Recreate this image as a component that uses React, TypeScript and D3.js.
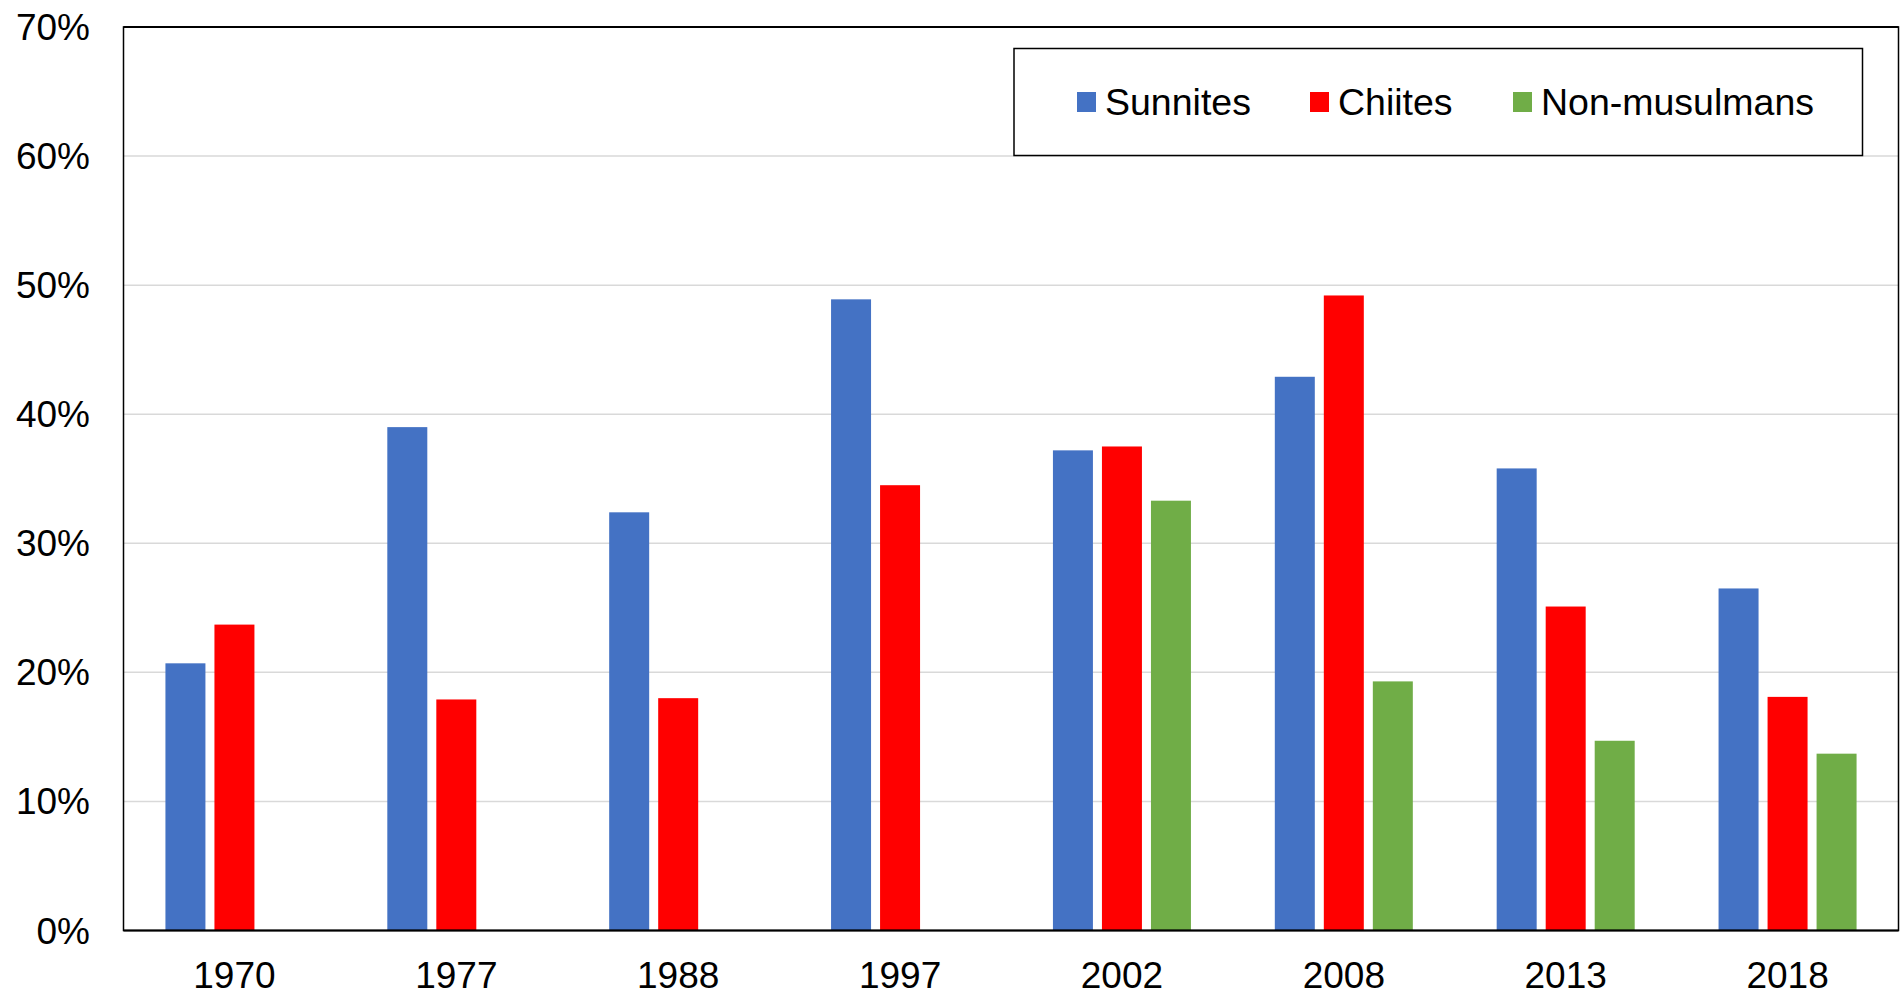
import React from "react";
import * as d3 from "d3";

const years = ["1970", "1977", "1988", "1997", "2002", "2008", "2013", "2018"];
const seriesNames = ["Sunnites", "Chiites", "Non-musulmans"];
const sunnites = [20.7, 39.0, 32.4, 48.9, 37.2, 42.9, 35.8, 26.5];
const chiites = [23.7, 17.9, 18.0, 34.5, 37.5, 49.2, 25.1, 18.1];
const nonMusulmans = [null, null, null, null, 33.3, 19.3, 14.7, 13.7];
const yTicks = [0, 10, 20, 30, 40, 50, 60, 70];
const colors = ["#4472C4", "#FF0000", "#70AD47"];

const W = 1901;
const H = 994;
const M = { left: 123.5, right: 1898.5, top: 27, bottom: 930.5 };
const FONT = "'Liberation Sans', Arial, sans-serif";

export default function App() {
  const x = d3.scaleBand<string>().domain(years).range([M.left, M.right]).paddingInner(0.378).paddingOuter(0.189);
  const xi = d3.scaleBand<string>().domain(seriesNames).range([0, x.bandwidth()]).paddingInner(0.184).paddingOuter(0);
  const y = d3.scaleLinear().domain([0, 70]).range([M.bottom, M.top]);
  const data = [sunnites, chiites, nonMusulmans];

  const legendX = [1077, 1310, 1513];

  return (
    <svg width={W} height={H} style={{ position: "absolute", left: 0, top: 0, display: "block", background: "#fff" }} fontFamily={FONT}>
      <rect x={0} y={0} width={W} height={H} fill="#fff" />
      {yTicks.slice(1, -1).map((t) => (
        <line key={t} x1={M.left} x2={M.right} y1={y(t)} y2={y(t)} stroke="#d9d9d9" strokeWidth={1.5} />
      ))}
      {data.map((vals, si) =>
        vals.map((v, i) =>
          v == null ? null : (
            <rect
              key={si + "-" + i}
              x={(x(years[i]) as number) + (xi(seriesNames[si]) as number)}
              y={y(v)}
              width={xi.bandwidth()}
              height={y(0) - y(v)}
              fill={colors[si]}
            />
          )
        )
      )}
      <rect x={M.left} y={M.top} width={M.right - M.left} height={M.bottom - M.top} fill="none" stroke="#000" strokeWidth={1.5} />
      <line x1={M.left} x2={M.right} y1={M.top} y2={M.top} stroke="#000" strokeWidth={2} />
      <line x1={M.left} x2={M.right} y1={M.bottom} y2={M.bottom} stroke="#000" strokeWidth={2} />
      {yTicks.map((t) => (
        <text key={t} x={90} y={y(t) + 13} textAnchor="end" fontSize={37} fill="#000">
          {t + "%"}
        </text>
      ))}
      {years.map((yr) => (
        <text key={yr} x={(x(yr) as number) + x.bandwidth() / 2} y={988} textAnchor="middle" fontSize={37} fill="#000">
          {yr}
        </text>
      ))}
      <rect x={1014} y={48.5} width={848.5} height={107} fill="#fff" stroke="#000" strokeWidth={1.5} />
      {seriesNames.map((n, i) => (
        <g key={n}>
          <rect x={legendX[i]} y={92} width={19} height={20} fill={colors[i]} />
          <text x={legendX[i] + 28} y={115} fontSize={37.5} fill="#000">
            {n}
          </text>
        </g>
      ))}
    </svg>
  );
}
